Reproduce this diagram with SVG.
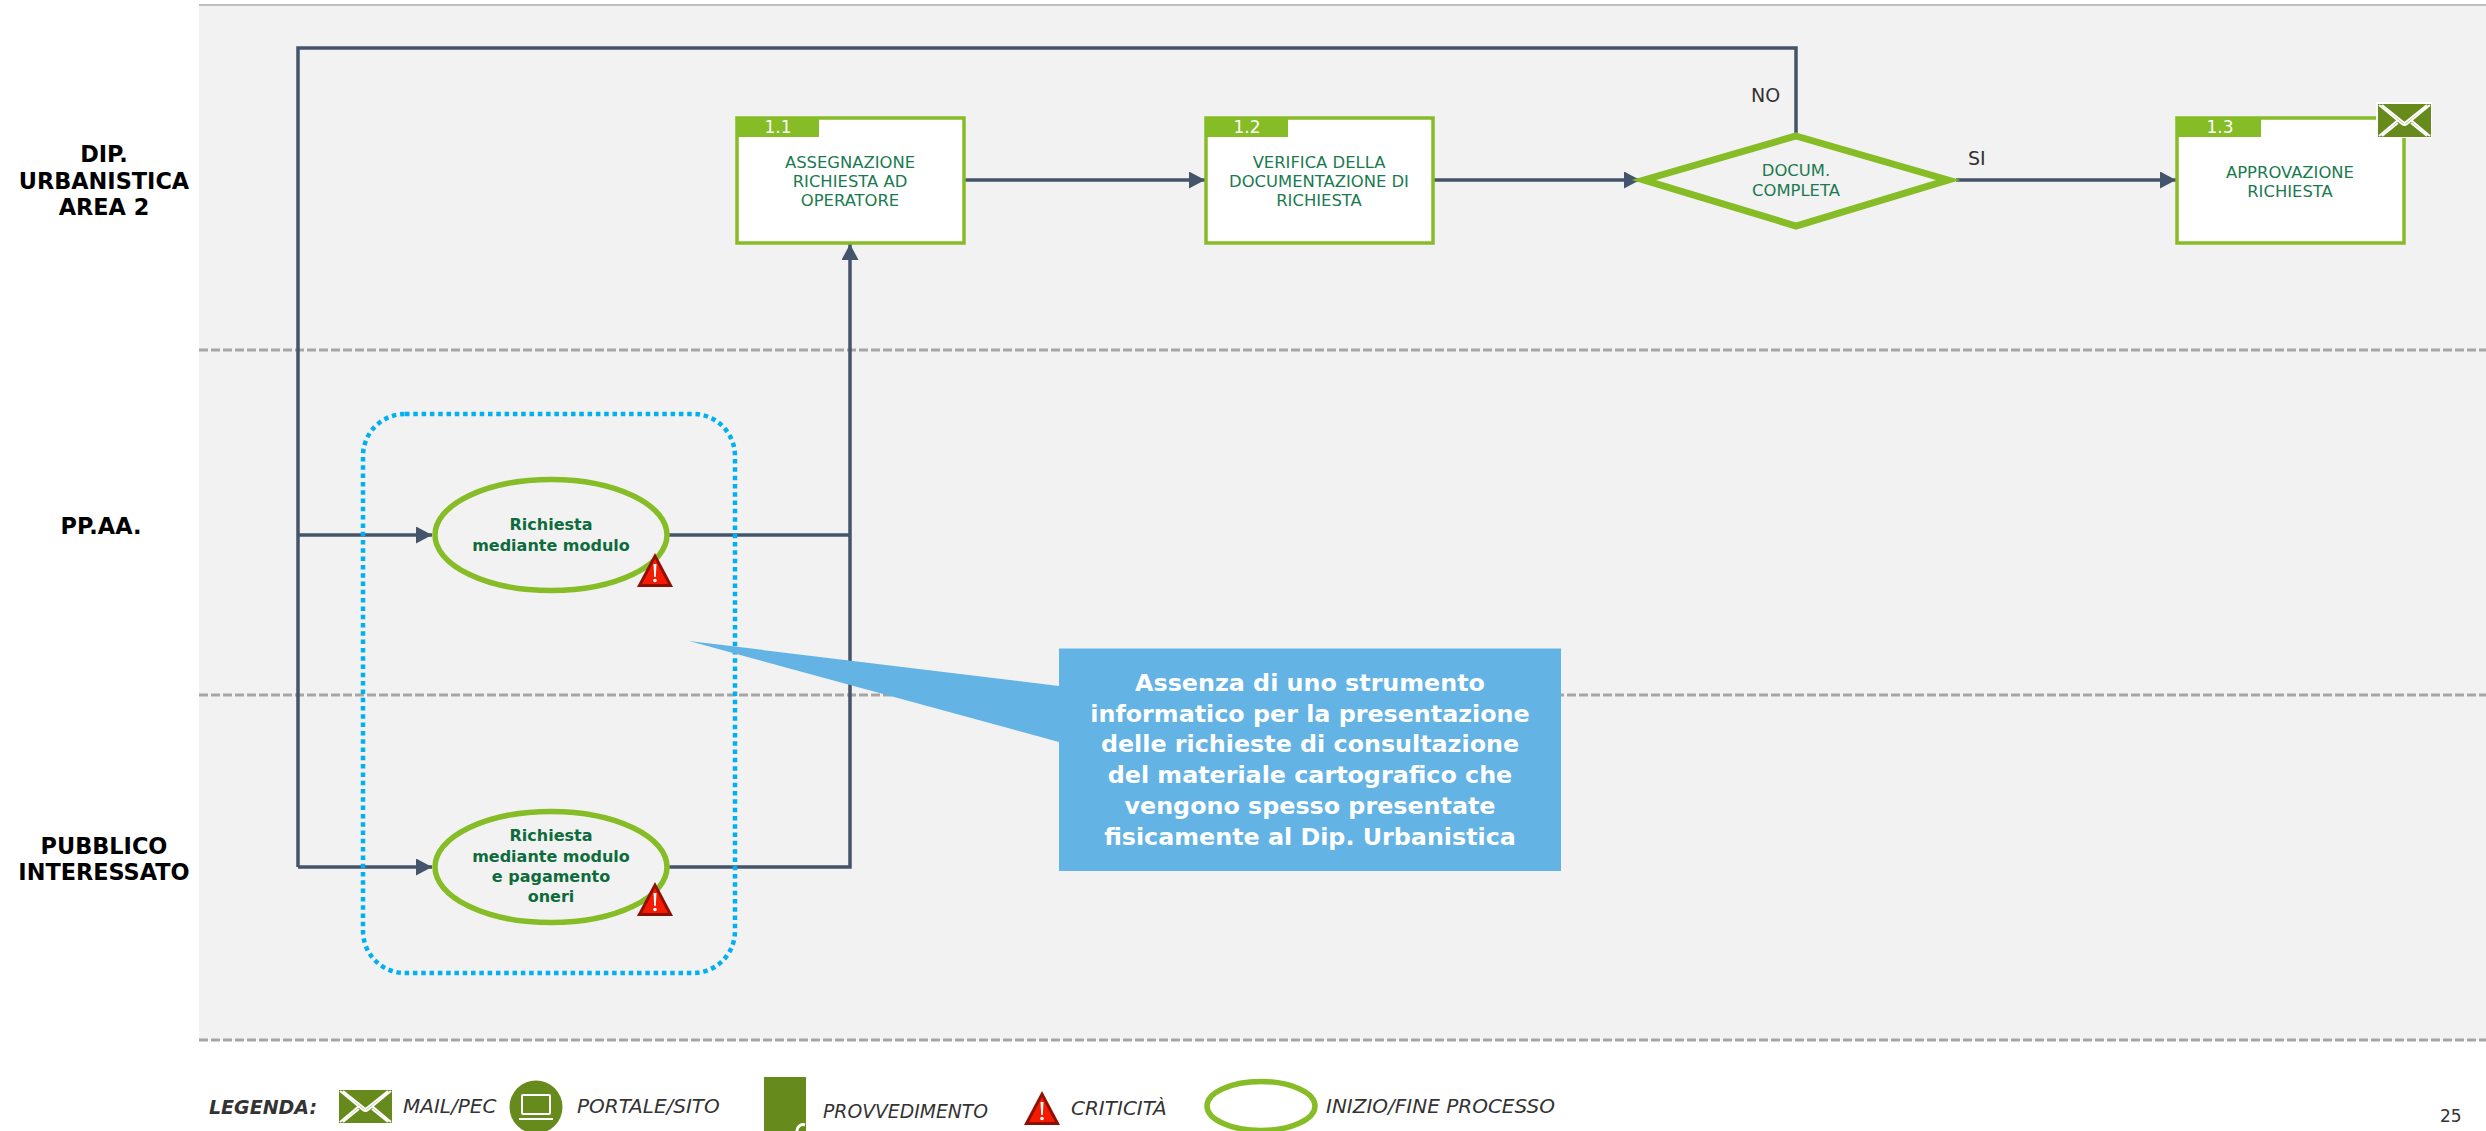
<svg xmlns="http://www.w3.org/2000/svg" width="2486" height="1131" viewBox="0 0 2486 1131">
<style>
text{font-family:"DejaVu Sans",Verdana,sans-serif}
.box{fill:#fff;stroke:#86BC25;stroke-width:3.500}
.hd{fill:#86BC25}
.num{fill:#fff;font-size:17px;text-anchor:middle}
.lbl{fill:#1A7A50;font-size:16.400px;text-anchor:middle}
.bl{fill:#0E6B3C;font-size:16px;font-weight:700;text-anchor:middle}
.ell{fill:#F2F2F2;stroke:#86BC25;stroke-width:5.500}
.lane{fill:#000;font-size:22.400px;font-weight:700;text-anchor:middle}
.cn{fill:none;stroke:#44546A;stroke-width:3.500}
.dash{stroke:#A6A6A6;stroke-width:3;stroke-dasharray:9 3;fill:none}
.call{fill:#fff;font-size:23.800px;font-weight:700;text-anchor:middle}
.leg{fill:#333;font-size:20px;font-style:italic}
.env{fill:#668A1C}
.envl{fill:none;stroke:#fff;stroke-width:2}
.dec{fill:#333;font-size:19px}
</style>
<defs>
<marker id="arr" markerUnits="userSpaceOnUse" markerWidth="16" markerHeight="17" refX="16" refY="8.500" orient="auto"><path d="M0 0L16 8.500L0 17Z" fill="#44546A"/></marker>
<g id="warn">
<path d="M18 0L36 34H0Z" fill="#8E0F04"/>
<path d="M18 6L31 31H5Z" fill="#F51A00"/>
<path d="M16.500 11H19.500L18.800 24H17.200Z" fill="#fff"/><circle cx="18" cy="27.500" r="1.800" fill="#fff"/>
</g>
<g id="mail">
<rect width="53" height="33" class="env"/>
<path class="envl" d="M1 1L24 20Q26.500 22 29 20L52 1M1 32L20 16M52 32L33 16M4 1L26.500 19L49 1M4 32L20 19M49 32L33 19"/>
</g>
</defs>

<rect x="199" y="5" width="2287" height="1035" fill="#F2F2F2"/>
<line x1="199" y1="5" x2="2486" y2="5" stroke="#BFBFBF" stroke-width="2"/>
<g id="lanes">
<line class="dash" x1="199" y1="350" x2="2486" y2="350"/>
<line class="dash" x1="199" y1="695" x2="2486" y2="695"/>
<line class="dash" x1="199" y1="1040" x2="2486" y2="1040"/>
<text class="lane" x="104" y="162">DIP.</text>
<text class="lane" x="104" y="189">URBANISTICA</text>
<text class="lane" x="104" y="215">AREA 2</text>
<text class="lane" x="101" y="534">PP.AA.</text>
<text class="lane" x="104" y="854">PUBBLICO</text>
<text class="lane" x="104" y="880">INTERESSATO</text>
</g>

<g id="connectors">
<path class="cn" marker-end="url(#arr)" d="M964 180H1205"/>
<path class="cn" marker-end="url(#arr)" d="M1433 180H1640"/>
<path class="cn" marker-end="url(#arr)" d="M1956 180H2176"/>
<path class="cn" d="M1796 133V48H298V867"/>
<path class="cn" marker-end="url(#arr)" d="M298 535H432"/>
<path class="cn" marker-end="url(#arr)" d="M298 867H432"/>
<path class="cn" d="M669 535H850"/>
<path class="cn" marker-end="url(#arr)" d="M669 867H850V244"/>
</g>

<g id="n1-1"><rect class="box" x="737" y="118" width="227" height="125"/><rect class="hd" x="737" y="118" width="82" height="19"/><text class="num" x="778" y="133">1.1</text>
<text class="lbl" x="850" y="168">ASSEGNAZIONE</text><text class="lbl" x="850" y="187">RICHIESTA AD</text><text class="lbl" x="850" y="206">OPERATORE</text></g>
<g id="n1-2"><rect class="box" x="1206" y="118" width="227" height="125"/><rect class="hd" x="1206" y="118" width="82" height="19"/><text class="num" x="1247" y="133">1.2</text>
<text class="lbl" x="1319" y="168">VERIFICA DELLA</text><text class="lbl" x="1319" y="187">DOCUMENTAZIONE DI</text><text class="lbl" x="1319" y="206">RICHIESTA</text></g>
<g id="n-dec"><path d="M1796 136L1948 180L1796 226L1644 180Z" fill="#F2F2F2" stroke="#86BC25" stroke-width="7"/>
<text class="lbl" x="1796" y="176">DOCUM.</text><text class="lbl" x="1796" y="196">COMPLETA</text></g>
<text class="dec" x="1751" y="102">NO</text>
<text class="dec" x="1968" y="165">SI</text>
<g id="n1-3"><rect class="box" x="2177" y="118" width="227" height="125"/><rect class="hd" x="2177" y="118" width="84" height="19"/><text class="num" x="2220" y="133">1.3</text>
<text class="lbl" x="2290" y="178">APPROVAZIONE</text><text class="lbl" x="2290" y="197">RICHIESTA</text>
<rect x="2376" y="102" width="56" height="36" fill="#fff"/><use href="#mail" x="2378" y="104"/></g>

<g id="n-start1"><ellipse class="ell" cx="551" cy="535" rx="116" ry="55.500"/><text class="bl" x="551" y="530">Richiesta</text><text class="bl" x="551" y="551">mediante modulo</text><use href="#warn" x="637" y="553"/></g>
<g id="n-start2"><ellipse class="ell" cx="551" cy="867" rx="116" ry="55.500"/><text class="bl" x="551" y="841">Richiesta</text><text class="bl" x="551" y="862">mediante modulo</text><text class="bl" x="551" y="882">e pagamento</text><text class="bl" x="551" y="902">oneri</text><use href="#warn" x="637" y="882"/></g>

<rect id="group" x="363" y="414" width="372" height="559" rx="42" fill="none" stroke="#00B0F0" stroke-width="4.500" stroke-dasharray="4.500 3.800"/>

<g id="callout">
<path d="M689 641L1059 686V648.500H1561V871H1059V742Z" fill="#63B3E5"/>
<text class="call" x="1310" y="691">Assenza di uno strumento</text>
<text class="call" x="1310" y="722">informatico per la presentazione</text>
<text class="call" x="1310" y="752">delle richieste di consultazione</text>
<text class="call" x="1310" y="783">del materiale cartografico che</text>
<text class="call" x="1310" y="814">vengono spesso presentate</text>
<text class="call" x="1310" y="845">fisicamente al Dip. Urbanistica</text>
</g>

<g id="legend">
<text x="209" y="1114" fill="#333" font-size="19" font-weight="700" font-style="italic">LEGENDA:</text>
<use href="#mail" x="339" y="1090"/>
<text class="leg" x="403" y="1113">MAIL/PEC</text>
<circle cx="536" cy="1107" r="26.500" fill="#668A1C"/>
<rect x="522" y="1095" width="28" height="19" rx="1" fill="none" stroke="#fff" stroke-width="2"/>
<rect x="519" y="1118" width="34" height="2" fill="#fff"/>
<text class="leg" x="577" y="1113">PORTALE/SITO</text>
<rect x="764" y="1077" width="42" height="54" fill="#668A1C"/>
<path d="M805 1125A6 6 0 0 0 797 1131" fill="none" stroke="#fff" stroke-width="3"/>
<text class="leg" x="823" y="1118" font-size="18.800" style="font-size:18.800px">PROVVEDIMENTO</text>
<use href="#warn" x="1024" y="1091"/>
<text class="leg" x="1071" y="1115">CRITICITÀ</text>
<ellipse cx="1261" cy="1106" rx="54" ry="24.500" fill="#fff" stroke="#86BC25" stroke-width="5.500"/>
<text class="leg" x="1326" y="1113">INIZIO/FINE PROCESSO</text>
</g>
<text x="2440" y="1122" fill="#333" font-size="17">25</text>
</svg>
